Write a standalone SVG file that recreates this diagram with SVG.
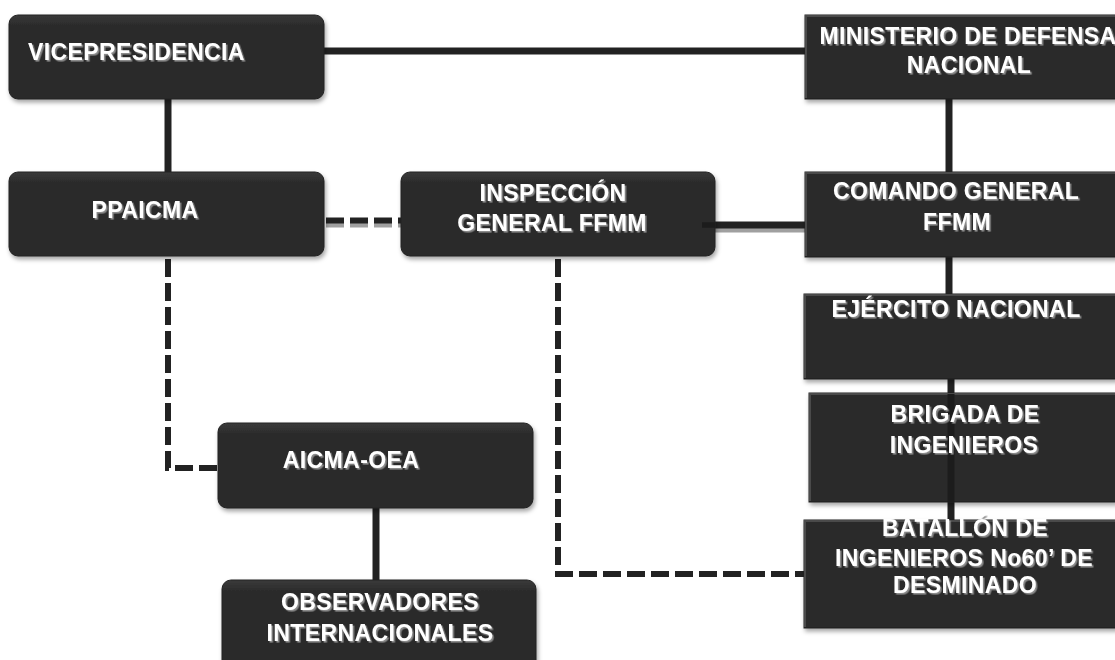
<svg xmlns="http://www.w3.org/2000/svg" width="1115" height="660" viewBox="0 0 1115 660">
<defs>
  <filter id="boxShadow" x="-10%" y="-20%" width="125%" height="150%">
    <feDropShadow dx="1.5" dy="3" stdDeviation="2" flood-color="#000" flood-opacity="0.35"/>
  </filter>
  <filter id="txtShadow" x="-5%" y="-30%" width="115%" height="170%">
    <feDropShadow dx="1.6" dy="1.6" stdDeviation="0.4" flood-color="#8c8c8c" flood-opacity="1"/>
  </filter>
  <linearGradient id="roundFill" x1="0" y1="0" x2="0" y2="1">
    <stop offset="0" stop-color="#3a3a3a"/>
    <stop offset="0.12" stop-color="#2c2c2c"/>
    <stop offset="1" stop-color="#292929"/>
  </linearGradient>
</defs>
<style>
  .round { fill: url(#roundFill); stroke: #222; stroke-width: 1; filter: url(#boxShadow); }
  .square { fill: #2b2b2b; stroke: #1f1f1f; stroke-width: 1; filter: url(#boxShadow); }
  .bevel { fill: none; stroke: #4a4a4a; stroke-width: 2; }
  .lbl { font-family: "Liberation Sans", Arial, sans-serif; font-weight: bold; font-size: 23px; letter-spacing: 0.4px; fill: #ffffff; filter: url(#txtShadow); }
  .mid { text-anchor: middle; }
  .solid { stroke: #222; stroke-width: 7; fill: none; }
  .dash { stroke: #222; stroke-width: 6; fill: none; stroke-dasharray: 18 6; }
  .lshadow { stroke: #a0a0a0; }
  .inner { stroke: #1c1c1c; fill: none; }
</style>
<rect width="1115" height="660" fill="#ffffff"/>

<g id="connectors">
  <line class="solid" x1="324" y1="51" x2="805" y2="51"/>
  <line class="solid" x1="168" y1="99" x2="168" y2="172"/>
  <line class="solid" x1="949" y1="99" x2="949" y2="172"/>
  <line class="dash lshadow" x1="326" y1="224.5" x2="401" y2="224.5" stroke-width="5"/>
  <line class="dash" x1="326" y1="220.5" x2="401" y2="220.5" stroke-width="5.5"/>
  <line class="solid lshadow" x1="715" y1="229" x2="805" y2="229" stroke-width="5"/>
  <line class="solid" x1="715" y1="225" x2="805" y2="225" stroke-width="5.5"/>
  <line class="solid" x1="949" y1="257" x2="949" y2="294"/>
  <line class="solid" x1="951" y1="379" x2="951" y2="520"/>
  <path class="dash" d="M168,259 V468 H218"/>
  <path class="dash" d="M558,259 V574 H804"/>
  <line class="solid" x1="376" y1="508" x2="376" y2="580"/>
</g>

<g id="node-vicepresidencia">
  <rect class="round" x="9" y="15" width="315" height="84" rx="9"/>
  <text class="lbl" x="28" y="60">VICEPRESIDENCIA</text>
</g>
<g id="node-ministerio">
  <rect class="square" x="805" y="15" width="330" height="84"/>
  <polyline class="bevel" points="806,98 806,16 1135,16"/>
  <text class="lbl mid" x="968" y="44">MINISTERIO DE DEFENSA</text>
  <text class="lbl mid" x="969" y="73">NACIONAL</text>
</g>
<g id="node-ppaicma">
  <rect class="round" x="9" y="172" width="315" height="84" rx="9"/>
  <text class="lbl mid" x="145" y="218">PPAICMA</text>
</g>
<g id="node-inspeccion">
  <rect class="round" x="401" y="172" width="314" height="84" rx="9"/>
  <line class="inner" x1="702" y1="225" x2="715" y2="225" stroke-width="5.5"/>
  <text class="lbl mid" x="553" y="201">INSPECCIÓN</text>
  <text class="lbl mid" x="552" y="231">GENERAL FFMM</text>
</g>
<g id="node-comando">
  <rect class="square" x="805" y="172" width="330" height="85"/>
  <polyline class="bevel" points="806,256 806,173 1135,173"/>
  <text class="lbl mid" x="956" y="199">COMANDO GENERAL</text>
  <text class="lbl mid" x="957" y="230">FFMM</text>
</g>
<g id="node-ejercito">
  <rect class="square" x="804" y="294" width="330" height="85"/>
  <polyline class="bevel" points="805,378 805,295 1135,295"/>
  <text class="lbl mid" x="956" y="317">EJÉRCITO NACIONAL</text>
</g>
<g id="node-brigada">
  <rect class="square" x="809" y="393" width="330" height="109"/>
  <polyline class="bevel" points="810,501 810,394 1135,394"/>
  <line class="inner" x1="951" y1="394" x2="951" y2="502" stroke-width="7" stroke="#232323"/>
  <text class="lbl mid" x="965" y="422">BRIGADA DE</text>
  <text class="lbl mid" x="964" y="453">INGENIEROS</text>
</g>
<g id="node-batallon">
  <rect class="square" x="804" y="520" width="330" height="108"/>
  <polyline class="bevel" points="805,627 805,521 1135,521"/>
  <text class="lbl mid" x="965" y="536">BATALLÓN DE</text>
  <text class="lbl mid" x="964" y="566">INGENIEROS No60’ DE</text>
  <text class="lbl mid" x="965" y="593">DESMINADO</text>
</g>
<g id="node-aicma-oea">
  <rect class="round" x="218" y="423" width="315" height="85" rx="9"/>
  <text class="lbl mid" x="351" y="468">AICMA-OEA</text>
</g>
<g id="node-observadores">
  <rect class="round" x="222" y="580" width="314" height="90" rx="9"/>
  <text class="lbl mid" x="380" y="610">OBSERVADORES</text>
  <text class="lbl mid" x="380" y="641">INTERNACIONALES</text>
</g>
</svg>
